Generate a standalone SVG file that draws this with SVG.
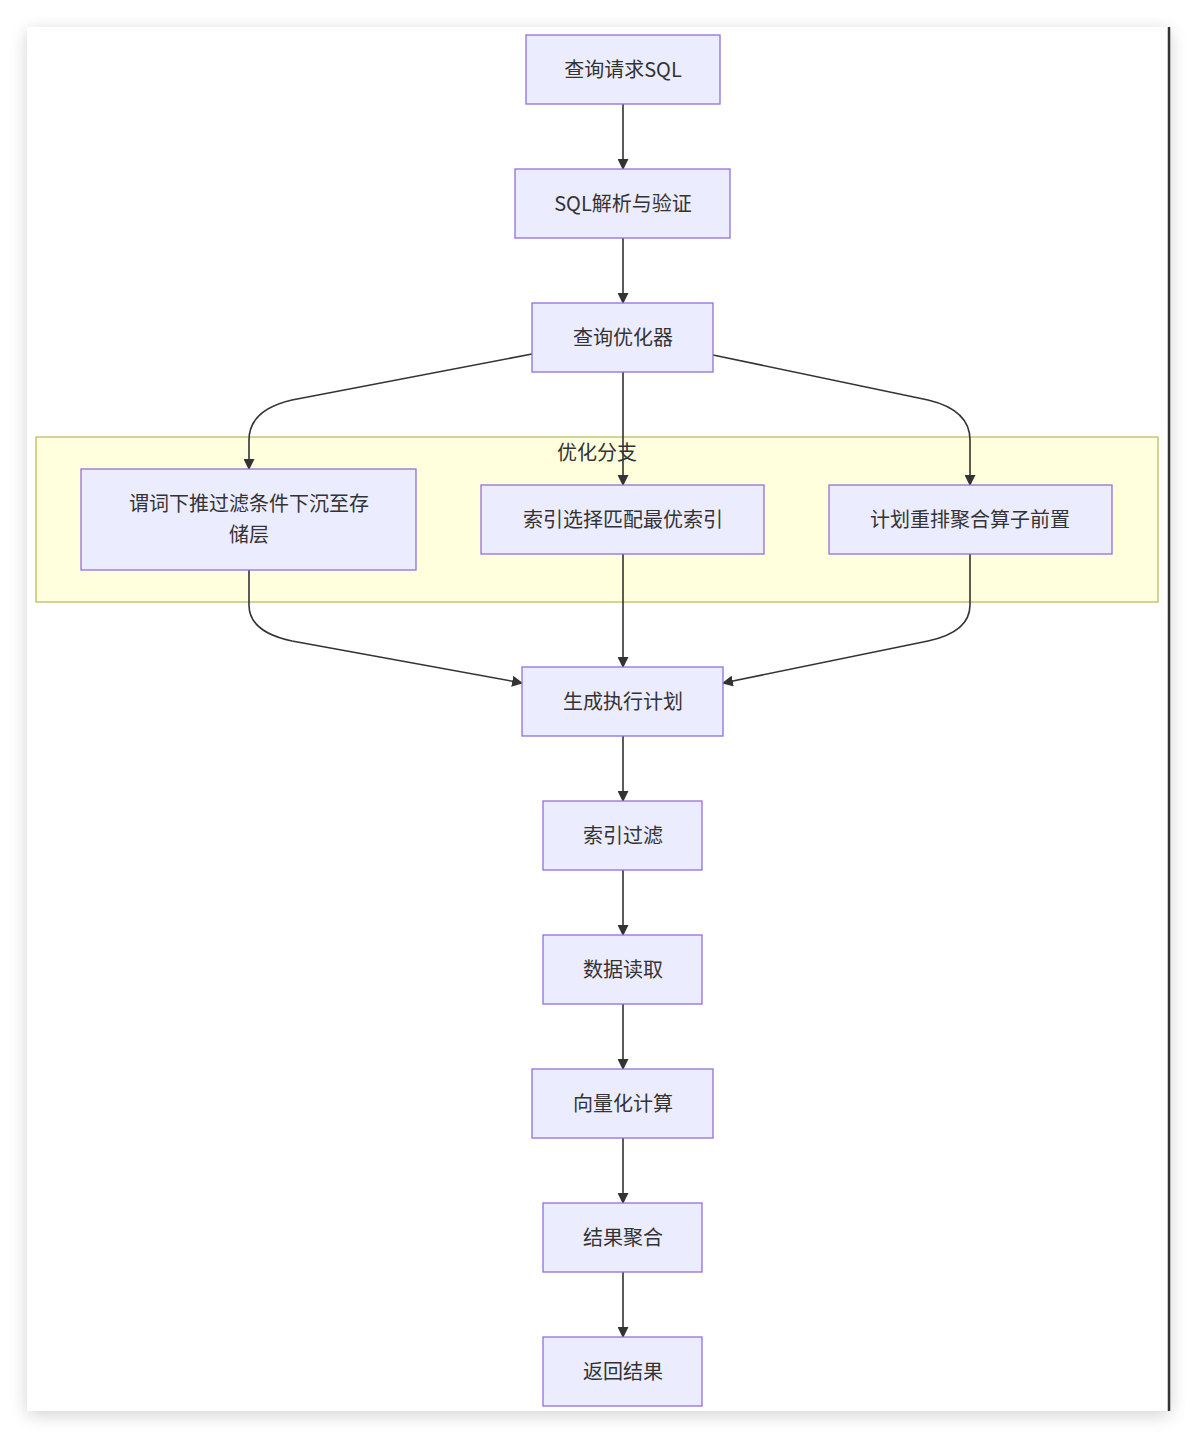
<svg xmlns="http://www.w3.org/2000/svg" width="1198" height="1438" viewBox="0 0 1198 1438">
<style>
.node rect{fill:#ECECFF;stroke:#9370DB;stroke-width:1.3}
.node text{font-family:"Noto Sans CJK SC","Noto Sans",sans-serif;font-size:20px;fill:#333;text-anchor:middle;dominant-baseline:central}
.edge{fill:none;stroke:#333;stroke-width:1.6;marker-end:url(#arr)}
.cluster rect{fill:#ffffde;stroke:#aaaa33;stroke-width:1}
.cluster text{font-family:"Noto Sans CJK SC","Noto Sans",sans-serif;font-size:20px;fill:#333;text-anchor:middle;dominant-baseline:central}
</style>
<defs>
<marker id="arr" viewBox="0 0 10 10" refX="9" refY="5" markerWidth="11" markerHeight="11" markerUnits="userSpaceOnUse" orient="auto">
<path d="M0,0 L10,5 L0,10 z" fill="#333"/>
</marker>
<filter id="sh" x="-10%" y="-10%" width="120%" height="120%">
<feGaussianBlur in="SourceAlpha" stdDeviation="9"/>
<feOffset dx="0" dy="4" result="b"/>
<feComponentTransfer><feFuncA type="linear" slope="0.18"/></feComponentTransfer>
<feMerge><feMergeNode/><feMergeNode in="SourceGraphic"/></feMerge>
</filter>
</defs>
<rect x="0" y="0" width="1198" height="1438" fill="#ffffff"/>
<rect x="27" y="27" width="1143" height="1384" fill="#ffffff" filter="url(#sh)"/>
<line x1="1169" y1="27" x2="1169" y2="1411" stroke="#333" stroke-width="2.5"/>

<g id="cluster-opt" class="cluster">
<rect x="36" y="437" width="1122" height="165"/>
<text x="597" y="451">优化分支</text>
</g>

<g id="edges">
<path class="edge" d="M623,104 L623,169"/>
<path class="edge" d="M623,238 L623,303"/>
<path class="edge" d="M532,354 L292,400 Q249,410 249,440 L249,469"/>
<path class="edge" d="M623,372 L623,485"/>
<path class="edge" d="M713,355 L928,400 Q970,410 970,440 L970,485"/>
<path class="edge" d="M249,570 L249,605 Q249,632 292,641 L522,683"/>
<path class="edge" d="M623,554 L623,667"/>
<path class="edge" d="M970,554 L970,605 Q970,632 928,641 L723,683"/>
<path class="edge" d="M623,736 L623,801"/>
<path class="edge" d="M623,870 L623,935"/>
<path class="edge" d="M623,1004 L623,1069"/>
<path class="edge" d="M623,1138 L623,1203"/>
<path class="edge" d="M623,1272 L623,1337"/>
</g>

<g id="n1" class="node"><rect x="526" y="35" width="194" height="69"/><text x="623" y="68">查询请求SQL</text></g>
<g id="n2" class="node"><rect x="515" y="169" width="215" height="69"/><text x="623" y="202">SQL解析与验证</text></g>
<g id="n3" class="node"><rect x="532" y="303" width="181" height="69"/><text x="623" y="336">查询优化器</text></g>
<g id="n4" class="node"><rect x="81" y="469" width="335" height="101"/><text x="249" y="502">谓词下推过滤条件下沉至存</text><text x="249" y="533">储层</text></g>
<g id="n5" class="node"><rect x="481" y="485" width="283" height="69"/><text x="623" y="518">索引选择匹配最优索引</text></g>
<g id="n6" class="node"><rect x="829" y="485" width="283" height="69"/><text x="970" y="518">计划重排聚合算子前置</text></g>
<g id="n7" class="node"><rect x="522" y="667" width="201" height="69"/><text x="623" y="700">生成执行计划</text></g>
<g id="n8" class="node"><rect x="543" y="801" width="159" height="69"/><text x="623" y="834">索引过滤</text></g>
<g id="n9" class="node"><rect x="543" y="935" width="159" height="69"/><text x="623" y="968">数据读取</text></g>
<g id="n10" class="node"><rect x="532" y="1069" width="181" height="69"/><text x="623" y="1102">向量化计算</text></g>
<g id="n11" class="node"><rect x="543" y="1203" width="159" height="69"/><text x="623" y="1236">结果聚合</text></g>
<g id="n12" class="node"><rect x="543" y="1337" width="159" height="69"/><text x="623" y="1370">返回结果</text></g>
</svg>
